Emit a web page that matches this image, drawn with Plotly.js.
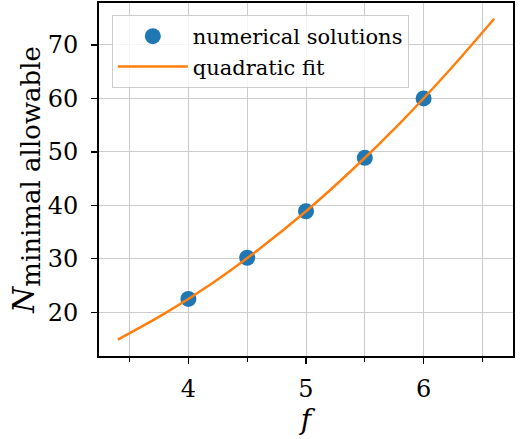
<!DOCTYPE html>
<html>
<head>
<meta charset="utf-8">
<script src="https://cdn.plot.ly/plotly-3.0.1.min.js"></script>
<style>
  html, body { margin: 0; padding: 0; background: #fff; }
  #plot { width: 522px; height: 439px; }
</style>
</head>
<body>
<div id="plot"></div>
<script>
// numerical solutions
var fValues = [4, 4.5, 5, 5.5, 6];
var nValues = [22.5, 30.2, 38.9, 48.9, 60.0];

// quadratic fit
var fitF = [3.4, 3.8, 4.2, 4.6, 5.0, 5.4, 5.8, 6.2, 6.6];
var fitN = [14.9, 19.8, 25.4, 31.8, 38.9, 46.8, 55.4, 64.8, 74.9];

var serif = 'DejaVu Serif';

var points = {
    x: fValues,
    y: nValues,
    mode: 'markers',
    type: 'scatter',
    name: 'numerical solutions',
    marker: { color: '#1f77b4', size: 16 }
};

var fit = {
    x: fitF,
    y: fitN,
    mode: 'lines',
    type: 'scatter',
    name: 'quadratic fit',
    line: { color: '#ff7f0e', width: 2.5, shape: 'spline' }
};

var layout = {
    width: 522,
    height: 439,
    margin: { l: 99, r: 9, t: 3, b: 83 },
    paper_bgcolor: '#fff',
    plot_bgcolor: '#fff',
    font: { family: serif, color: '#000', size: 24 },
    showlegend: true,
    legend: {
        x: 0.031, y: 0.966, xanchor: 'left', yanchor: 'top',
        bgcolor: 'rgba(255,255,255,0.8)',
        bordercolor: '#cccccc', borderwidth: 1,
        font: { family: serif, size: 21 },
        itemwidth: 70,
        traceorder: 'normal'
    },
    xaxis: {
        range: [3.24, 6.76],
        tickvals: [4, 5, 6],
        ticks: 'outside', ticklen: 6, tickwidth: 1.2, tickcolor: '#000',
        ticklabelstandoff: 4,
        tickfont: { family: serif, size: 24 },
        showline: true, mirror: true, linecolor: '#000', linewidth: 2,
        showgrid: true, gridcolor: '#cccccc', gridwidth: 1,
        zeroline: false,
        minor: { tickvals: [3.5, 4.5, 5.5, 6.5], ticks: 'outside', ticklen: 4, tickcolor: '#000', showgrid: true, gridcolor: '#cccccc' },
        title: { text: '<i>f</i>', font: { family: serif, size: 28 }, standoff: 6 }
    },
    yaxis: {
        range: [11.83, 77.85],
        tickvals: [20, 30, 40, 50, 60, 70],
        ticks: 'outside', ticklen: 6, tickwidth: 1.2, tickcolor: '#000',
        ticklabelstandoff: 8,
        tickfont: { family: serif, size: 24 },
        showline: true, mirror: true, linecolor: '#000', linewidth: 2,
        showgrid: true, gridcolor: '#cccccc', gridwidth: 1,
        zeroline: false,
        title: {
            text: '<i>N</i><sub><span style="font-size:26px">minimal allowable</span></sub>',
            font: { family: serif, size: 30 }, standoff: 4
        }
    }
};

Plotly.newPlot('plot', [points, fit], layout, { staticPlot: true });
</script>
</body>
</html>
